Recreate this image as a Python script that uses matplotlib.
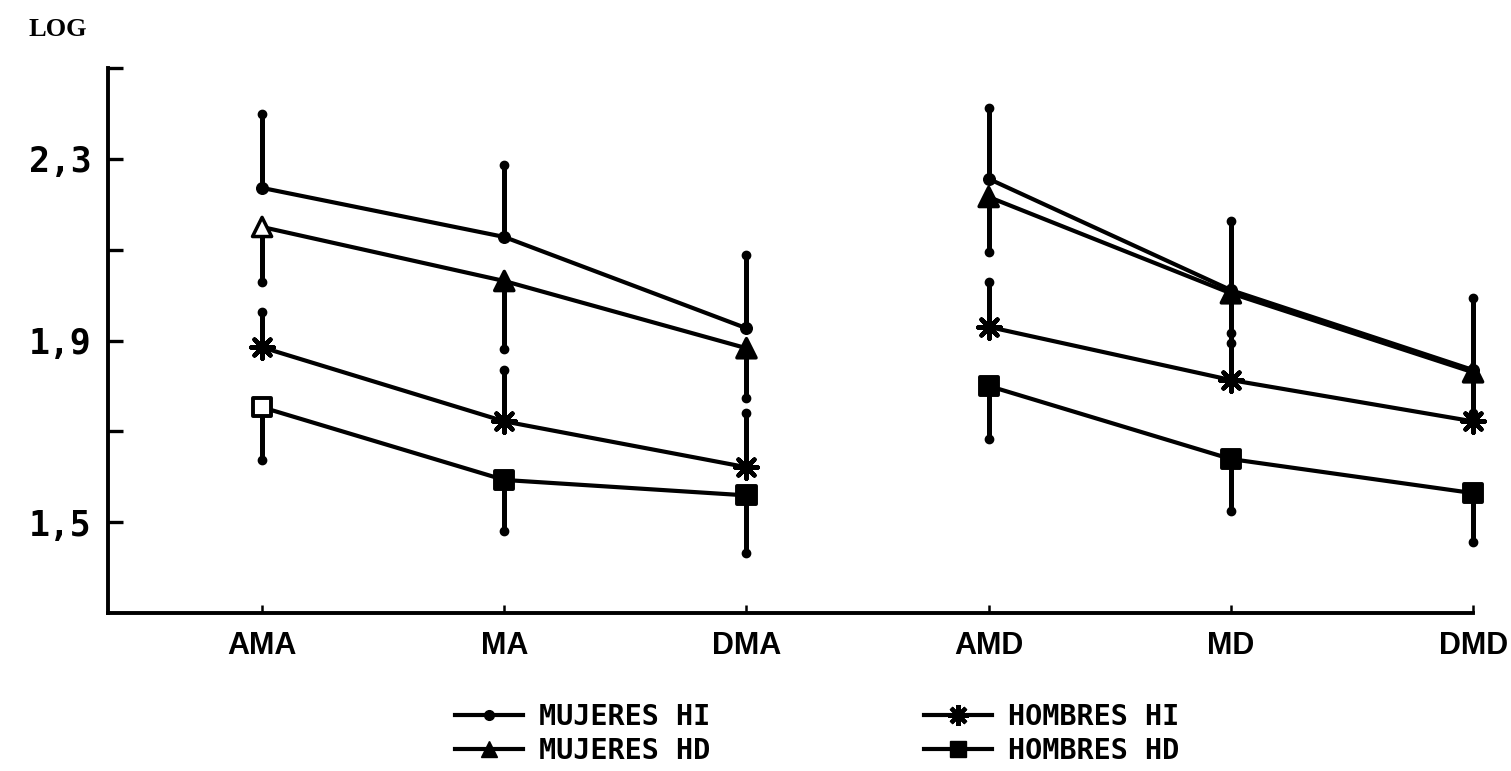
import numpy as np
import matplotlib
matplotlib.use("Agg")
import matplotlib.pyplot as plt
from matplotlib.lines import Line2D
from matplotlib.legend_handler import HandlerTuple

# Categories (left block: A-series, right block: D-series)
categories = ["AMA", "MA", "DMA", "AMD", "MD", "DMD"]

# Mean log values and one-sided deviations
mujeres_hi = [2.236, 2.128, 1.927, 2.256, 2.011, 1.835]
mujeres_hi_err = [0.163, 0.158, 0.161, 0.156, 0.152, 0.158]
mujeres_hd = [2.150, 2.031, 1.883, 2.216, 2.004, 1.830]
mujeres_hd_err = [0.121, 0.150, 0.110, 0.121, 0.110, 0.090]
hombres_hi = [1.885, 1.722, 1.621, 1.930, 1.813, 1.722]
hombres_hi_err = [0.077, 0.112, 0.119, 0.099, 0.103, 0.100]
hombres_hd = [1.753, 1.593, 1.559, 1.800, 1.639, 1.564]
hombres_hd_err = [0.115, 0.112, 0.126, 0.117, 0.115, 0.108]

series_labels = ["MUJERES HI", "MUJERES HD", "HOMBRES HI", "HOMBRES HD"]

y_ticks = [1.5, 1.7, 1.9, 2.1, 2.3, 2.5]
y_ticklabels = ["1,5", "", "1,9", "", "2,3", ""]

INK = "black"
fig = plt.figure(figsize=(15.11, 7.71), dpi=100)
ax = fig.add_axes([0.0715, 0.2049, 0.9034, 0.7069])

x = np.arange(len(categories))
groups = [slice(0, 3), slice(3, 6)]

def draw_series(vals, errs, direction):
    vals = np.asarray(vals)
    errs = np.asarray(errs)
    ends = vals + direction * errs
    # one-sided deviation bars with round end dots
    ax.vlines(x, vals, ends, colors=INK, linewidth=3.6, zorder=2, clip_on=False)
    ax.plot(x, ends, linestyle="none", marker="o", ms=6, color=INK, zorder=3, clip_on=False)
    for g in groups:
        ax.plot(x[g], vals[g], color=INK, linewidth=3.0, zorder=3,
                solid_capstyle="round", clip_on=False)

draw_series(mujeres_hi, mujeres_hi_err, +1)
draw_series(mujeres_hd, mujeres_hd_err, -1)
draw_series(hombres_hi, hombres_hi_err, +1)
draw_series(hombres_hd, hombres_hd_err, -1)

# Markers (first point of the HD series drawn hollow)
open_first = ["white"] + [INK] * 5
ax.scatter(x, mujeres_hi, s=70, marker="o", color=INK, zorder=4, clip_on=False)
ax.scatter(x, mujeres_hd, s=190, marker="^", facecolors=open_first, edgecolors=INK,
           linewidths=2.5, zorder=4, clip_on=False)
ax.scatter(x, hombres_hi, s=260, marker=(8, 2, 0), color=INK, linewidths=3.2,
           zorder=4, clip_on=False)
ax.scatter(x, hombres_hi, s=80, marker="o", color=INK, zorder=4, clip_on=False)
ax.scatter(x, hombres_hd, s=170, marker="s", facecolors=open_first, edgecolors=INK,
           linewidths=2.8, zorder=4, clip_on=False)

# Axes styling
ax.set_xlim(-0.636, 5.0)
ax.set_ylim(1.3, 2.5)
for side in ("top", "right"):
    ax.spines[side].set_visible(False)
for side in ("left", "bottom"):
    ax.spines[side].set_linewidth(2.8)
    ax.spines[side].set_color(INK)

ax.set_yticks(y_ticks)
ax.set_yticklabels(y_ticklabels, fontfamily="DejaVu Sans Mono", fontweight="bold",
                   fontsize=25)
ax.tick_params(axis="y", direction="in", length=11, width=2.4, pad=12, colors=INK)

ax.set_xticks(x)
ax.set_xticklabels(categories, fontfamily="Liberation Sans", fontweight="bold",
                   fontsize=22)
ax.tick_params(axis="x", direction="in", length=6, width=1.8, pad=13, colors=INK)

fig.text(0.038, 0.962, "LOG", ha="center", va="center", fontfamily="Liberation Serif",
         fontweight="bold", fontsize=19, color=INK)

# Legend
h_mhi = Line2D([], [], color=INK, lw=3, marker="o", ms=7)
h_mhd = Line2D([], [], color=INK, lw=3, marker="^", ms=12)
h_hhi = (Line2D([], [], color=INK, lw=3, marker=(8, 2, 0), ms=15, mew=3),
         Line2D([], [], color=INK, lw=0, marker="o", ms=8))
h_hhd = Line2D([], [], color=INK, lw=3, marker="s", ms=11)
fig.legend([h_mhi, h_mhd, h_hhi, h_hhd], series_labels, ncol=2,
           loc="center left", bbox_to_anchor=(0.301, 0.048), frameon=False,
           borderpad=0, borderaxespad=0, handlelength=2.4, handletextpad=0.55,
           columnspacing=7.5, labelspacing=0.22,
           handler_map={tuple: HandlerTuple(ndivide=1)},
           prop={"family": "DejaVu Sans Mono", "weight": "bold", "size": 20.5})

fig.savefig("out.png", dpi=100, facecolor="white")
